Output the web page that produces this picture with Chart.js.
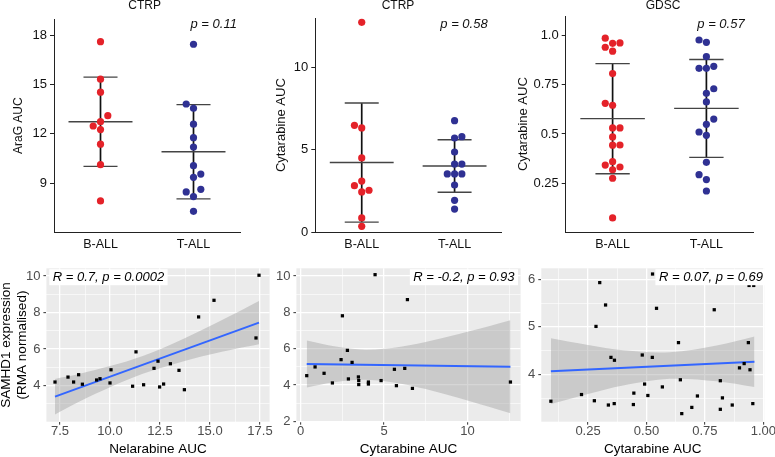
<!DOCTYPE html>
<html>
<head>
<meta charset="utf-8">
<title>SAMHD1 and drug AUC</title>
<script src="https://cdn.jsdelivr.net/npm/chart.js@4.4.1/dist/chart.umd.min.js"></script>
<style>
  html, body { margin: 0; padding: 0; background: #fff; overflow: hidden; }
  #fig { position: relative; width: 775px; height: 457px; }
  #fig canvas { position: absolute; left: 0; top: 0; }
</style>
</head>
<body>
<div id="fig">
  <canvas id="topArag" width="775" height="457"></canvas>
  <canvas id="topCtrp" width="775" height="457"></canvas>
  <canvas id="topGdsc" width="775" height="457"></canvas>
  <canvas id="botNel" width="775" height="457"></canvas>
  <canvas id="botCtrp" width="775" height="457"></canvas>
  <canvas id="botGdsc" width="775" height="457"></canvas>
</div>
<script>
// ---- values ----
const groupLabels = ['B-ALL', 'T-ALL'];

// top row: AUC per cell line (B-ALL / T-ALL), mean and SD bars
const aragB = [17.62, 15.33, 14.54, 12.74, 12.26, 11.37, 10.12, 7.91, 12.48, 13.11];
const aragT = [17.46, 13.56, 12.59, 11.77, 11.2, 10.06, 9.35, 8.18, 7.28, 13.82, 9.55, 8.46, 8.62];
const aragMean = [12.74, 10.91];
const aragSd = [2.72, 2.87];

const ctrpB = [12.74, 6.33, 4.51, 3.11, 2.45, 0.87, 0.36, 6.49, 2.55, 2.83];
const ctrpT = [6.77, 5.72, 4.87, 4.14, 3.54, 2.87, 1.94, 1.41, 3.54, 5.8, 3.54, 4.14];
const ctrpMean = [4.23, 4.02];
const ctrpSd = [3.61, 1.59];

const gdscB = [0.961, 0.921, 0.807, 0.646, 0.531, 0.485, 0.443, 0.359, 0.318, 0.275, 0.073,
               0.987, 0.963, 0.941, 0.531, 0.656, 0.444, 0.342, 0.332];
const gdscT = [0.966, 0.893, 0.834, 0.707, 0.663, 0.549, 0.493, 0.356, 0.268, 0.210,
               0.978, 0.844, 0.834, 0.730, 0.510, 0.576, 0.293];
const gdscMean = [0.578, 0.63];
const gdscSd = [0.28, 0.249];

// bottom row: AUC vs SAMHD1 expression, fitted line and its confidence band
const nelAuc = [7.25, 7.9, 8.18, 8.43, 8.62, 9.33, 9.5, 10.0, 10.05, 11.13, 11.3, 11.68,
                12.2, 12.4, 12.48, 12.68, 13.02, 13.45, 13.72, 14.43, 15.2, 17.3, 17.45];
const nelSamhd1 = [4.2, 4.47, 4.2, 4.6, 4.08, 4.31, 4.38, 4.15, 4.87, 3.97, 5.85, 4.05,
                   4.95, 5.34, 3.93, 4.09, 5.2, 4.84, 3.78, 7.76, 8.67, 6.61, 10.04];
const nelFitX = [7.25, 17.45];
const nelFitY = [3.40, 7.45];
const nelBandX = [7.25, 8.5, 10, 11.64, 13.3, 15, 16.3, 17.45];
const nelBandLo = [2.43, 3.15, 3.92, 4.65, 5.22, 5.70, 6.02, 6.27];
const nelBandHi = [4.37, 4.65, 5.07, 5.63, 6.38, 7.26, 7.97, 8.63];

const cytAuc = [0.36, 0.86, 1.4, 1.9, 2.42, 2.5, 2.8, 2.86, 3.08, 3.46, 3.48, 3.48,
                4.06, 4.06, 4.46, 4.82, 5.62, 5.74, 6.24, 6.4, 6.7, 12.58];
const cytSamhd1 = [4.52, 5.0, 4.65, 4.12, 5.4, 7.81, 5.91, 4.34, 5.25, 4.45, 4.25, 4.03,
                   4.17, 4.06, 10.07, 4.25, 4.87, 3.97, 4.92, 8.7, 3.82, 4.17];
const cytFitX = [0.36, 12.58];
const cytFitY = [5.16, 5.01];
const cytBandX = [0.36, 2, 3.9, 6, 8, 10, 12.58];
const cytBandLo = [3.87, 4.16, 4.29, 4.07, 3.66, 3.15, 2.45];
const cytBandHi = [6.45, 6.13, 5.95, 6.11, 6.48, 6.93, 7.57];

const gdscAuc = [0.091, 0.222, 0.277, 0.284, 0.300, 0.325, 0.337, 0.348, 0.362, 0.363, 0.444, 0.446,
                 0.482, 0.492, 0.506, 0.525, 0.543, 0.568, 0.637, 0.645, 0.651, 0.694, 0.718, 0.790,
                 0.816, 0.816, 0.825, 0.867, 0.898, 0.918, 0.939, 0.936, 0.943, 0.959, 0.955, 0.526];
const gdscSamhd1 = [3.44, 3.58, 3.45, 5.01, 5.93, 5.46, 3.36, 4.36, 3.39, 4.30, 3.37, 3.61,
                    4.41, 3.80, 3.56, 4.36, 5.39, 3.74, 4.67, 3.89, 3.18, 3.31, 3.55, 5.36,
                    3.87, 3.27, 3.51, 3.36, 4.14, 4.23, 5.87, 4.67, 4.10, 5.87, 3.39, 6.11];
const gdscFitX = [0.091, 0.962];
const gdscFitY = [4.07, 4.27];
const gdscBandX = [0.091, 0.25, 0.4, 0.6, 0.8, 0.962];
const gdscBandLo = [3.38, 3.59, 3.77, 3.91, 3.86, 3.74];
const gdscBandHi = [4.76, 4.62, 4.51, 4.47, 4.61, 4.80];

// ---- drawing ----
const FONT = "'Liberation Sans', Arial, Helvetica, sans-serif";
Chart.defaults.font.family = FONT;
Chart.defaults.animation = false;
Chart.defaults.events = [];
Chart.defaults.plugins.legend.display = false;
Chart.defaults.plugins.tooltip.enabled = false;

const PAGE_W = 775, PAGE_H = 457;
const dotColors = ['#E42229', '#2F3193'];
const LANE = 0.0785;      // swarm column width in category units
const GAP = 7.5;          // px, dots closer than this are pushed sideways
const MEAN_HALF = 0.344;
const CAP_HALF = 0.183;

// simple beeswarm: dots that collide go left/right alternately
function swarm(values, cx, pxPerUnit) {
  const placed = [];
  let pref = -1;
  return values.map(v => {
    const py = v * pxPerUnit;
    const busy = lane => placed.some(p => p.lane === lane && Math.abs(p.py - py) < GAP);
    let lane = 0;
    if (busy(0)) {
      for (let k = 1; k < 5; k++) {
        if (!busy(pref * k)) { lane = pref * k; break; }
        if (!busy(-pref * k)) { lane = -pref * k; break; }
      }
      pref = -pref;
    }
    placed.push({ lane, py });
    return { x: cx + lane * LANE, y: v };
  });
}

// grey panel background (ggplot style)
const panelBg = {
  id: 'panelBg',
  beforeDraw(chart, args, opts) {
    if (!opts.color) return;
    const { ctx, chartArea: a } = chart;
    ctx.save();
    ctx.fillStyle = opts.color;
    ctx.fillRect(a.left, a.top, a.width, a.height);
    ctx.restore();
  }
};

// free text: titles, p values, boxed R labels
const notes = {
  id: 'notes',
  afterDatasetsDraw(chart, args, opts) {
    const ctx = chart.ctx;
    (opts.items || []).forEach(n => {
      ctx.save();
      ctx.font = n.font;
      ctx.textBaseline = 'middle';
      if (n.box) {
        const w = ctx.measureText(n.text).width + 7;
        const left = n.anchor === 'right' ? n.x - w : n.x;
        ctx.fillStyle = '#fff';
        ctx.fillRect(left, n.y - 8, w, 16);
        ctx.textAlign = 'left';
        ctx.fillStyle = '#000';
        ctx.fillText(n.text, left + 3.5, n.y);
      } else {
        ctx.textAlign = n.align || 'center';
        ctx.fillStyle = n.color || '#111';
        ctx.fillText(n.text, n.x, n.y);
      }
      ctx.restore();
    });
  }
};

function dotPanel(id, p) {
  const pxPerUnit = (p.area.b - p.area.t) / (p.yMax - p.yMin);
  const datasets = [];
  p.groups.forEach((vals, i) => {
    const cx = i + 1, m = p.mean[i], s = p.sd[i];
    datasets.push({
      data: swarm(vals, cx, pxPerUnit), backgroundColor: dotColors[i],
      pointRadius: 3.6, borderWidth: 0, clip: false, order: 0
    });
    const seg = (pts, color, width) => datasets.push({
      data: pts, showLine: true, borderColor: color, borderWidth: width,
      pointRadius: 0, clip: false, order: 1
    });
    seg([{ x: cx - MEAN_HALF, y: m }, { x: cx + MEAN_HALF, y: m }], '#444', 1.4);
    seg([{ x: cx - CAP_HALF, y: m + s }, { x: cx + CAP_HALF, y: m + s }], '#444', 1.4);
    seg([{ x: cx - CAP_HALF, y: m - s }, { x: cx + CAP_HALF, y: m - s }], '#444', 1.4);
    seg([{ x: cx, y: m - s }, { x: cx, y: m + s }], '#111', 1.7);
  });

  const lh = p.yTitleSize * 1.2;
  const left = p.yTitleX - lh / 2;

  new Chart(document.getElementById(id), {
    type: 'scatter',
    data: { datasets },
    plugins: [notes],
    options: {
      responsive: false,
      layout: { padding: { left: left, right: PAGE_W - p.area.r, top: p.area.t, bottom: 0 } },
      scales: {
        x: {
          type: 'linear', min: 0.5, max: 2.5,
          afterBuildTicks: s => { s.ticks = [{ value: 1 }, { value: 2 }]; },
          afterFit: s => { s.height = PAGE_H - p.area.b; },
          ticks: {
            autoSkip: false, maxRotation: 0, padding: 5, color: '#111',
            font: { size: 12.5 }, callback: v => groupLabels[v - 1]
          },
          grid: { display: false, drawTicks: false },
          border: { display: true, color: '#222', width: 1 }
        },
        y: {
          min: p.yMin, max: p.yMax,
          afterBuildTicks: s => { s.ticks = p.yTicks.map(v => ({ value: v })); },
          afterFit: s => { s.width = p.area.l - left; },
          ticks: { padding: 3, color: '#111', font: { size: 13 }, callback: (v, i) => p.yTickLabels[i] },
          grid: { drawOnChartArea: false, tickLength: 4, tickColor: '#222' },
          border: { display: true, color: '#222', width: 1 },
          title: {
            display: true, text: p.yTitle, color: '#111',
            font: { size: p.yTitleSize }, padding: { top: 0, bottom: 0 }
          }
        }
      },
      plugins: { notes: { items: p.notes } }
    }
  });
}

const near = (a, b) => Math.abs(a - b) < 1e-9;

function gridTicks(major, minor, min, max) {
  return major.concat(minor)
    .filter(v => v >= min && v <= max)
    .sort((a, b) => a - b)
    .map(v => ({ value: v }));
}

function ggAxis(min, max, major, minor, labels) {
  const isMajor = v => major.some(m => near(m, v));
  return {
    type: 'linear', min, max,
    afterBuildTicks: s => { s.ticks = gridTicks(major, minor, min, max); },
    ticks: {
      autoSkip: false, maxRotation: 0, color: '#4D4D4D', font: { size: 13 },
      callback: v => {
        const i = major.findIndex(m => near(m, v));
        return i < 0 ? '' : labels[i];
      }
    },
    grid: {
      color: '#fff',
      lineWidth: c => (c.tick && isMajor(c.tick.value)) ? 1.3 : 0.6,
      tickColor: c => (c.tick && isMajor(c.tick.value)) ? '#333' : 'rgba(0,0,0,0)',
      tickWidth: 1, tickLength: 3
    },
    border: { display: false }
  };
}

function scatterPanel(id, p) {
  const pts = (xs, ys) => xs.map((v, i) => ({ x: v, y: ys[i] }));
  const x = ggAxis(p.xMin, p.xMax, p.xMajor, p.xMinor, p.xLabels);
  x.ticks.padding = -1;
  x.afterFit = s => { s.height = PAGE_H - p.area.b; };
  x.title = { display: true, text: p.xTitle, color: '#000', font: { size: 13.5 }, padding: { top: 0, bottom: 0 } };

  const y = ggAxis(p.yMin, p.yMax, p.yMajor, p.yMinor, p.yLabels);
  y.ticks.padding = 3;
  y.afterFit = s => { s.width = p.area.l - p.padLeft; };
  if (p.yTitle) {
    y.title = { display: true, text: p.yTitle, color: '#000', font: { size: 13.5 }, padding: { top: -2, bottom: 0 } };
  }

  new Chart(document.getElementById(id), {
    type: 'scatter',
    data: {
      datasets: [
        { data: pts(p.x, p.y), pointStyle: 'rect', pointRadius: 2.3, backgroundColor: '#000',
          borderWidth: 0, clip: false, order: 0 },
        { data: pts(p.fitX, p.fitY), showLine: true, borderColor: '#3366FF', borderWidth: 2,
          pointRadius: 0, order: 1 },
        { data: pts(p.bandX, p.bandLo), showLine: true, borderWidth: 0, borderColor: 'rgba(0,0,0,0)',
          pointRadius: 0, tension: 0.35, order: 2 },
        { data: pts(p.bandX, p.bandHi), showLine: true, borderWidth: 0, borderColor: 'rgba(0,0,0,0)',
          pointRadius: 0, tension: 0.35, order: 2, fill: '-1', backgroundColor: 'rgba(153,153,153,0.4)' }
      ]
    },
    plugins: [panelBg, notes],
    options: {
      responsive: false,
      layout: { padding: { left: p.padLeft, right: PAGE_W - p.area.r, top: p.area.t, bottom: 0 } },
      scales: { x, y },
      plugins: { panelBg: { color: '#EBEBEB' }, notes: { items: p.notes } }
    }
  });
}

const italic = "italic 13px " + FONT;
const plain = "12px " + FONT;

dotPanel('topArag', {
  area: { l: 54, r: 240, t: 19, b: 232.3 },
  yMin: 6, yMax: 19, yTicks: [9, 12, 15, 18], yTickLabels: ['9', '12', '15', '18'],
  yTitle: 'AraG AUC', yTitleSize: 12, yTitleX: 18.5,
  groups: [aragB, aragT], mean: aragMean, sd: aragSd,
  notes: [
    { text: 'CTRP', x: 144.7, y: 5.5, font: plain },
    { text: 'p = 0.11', x: 213.7, y: 24, font: italic }
  ]
});

dotPanel('topCtrp', {
  area: { l: 315.3, r: 501, t: 18, b: 232.3 },
  yMin: 0, yMax: 13, yTicks: [0, 5, 10], yTickLabels: ['0', '5', '10'],
  yTitle: 'Cytarabine AUC', yTitleSize: 13, yTitleX: 281.2,
  groups: [ctrpB, ctrpT], mean: ctrpMean, sd: ctrpSd,
  notes: [
    { text: 'CTRP', x: 398, y: 5.5, font: plain },
    { text: 'p = 0.58', x: 464, y: 24, font: italic }
  ]
});

dotPanel('topGdsc', {
  area: { l: 565.7, r: 753.3, t: 16, b: 232.3 },
  yMin: 0, yMax: 1.1, yTicks: [0.25, 0.5, 0.75, 1.0], yTickLabels: ['0.25', '0.5', '0.75', '1.0'],
  yTitle: 'Cytarabine AUC', yTitleSize: 13, yTitleX: 523.8,
  groups: [gdscB, gdscT], mean: gdscMean, sd: gdscSd,
  notes: [
    { text: 'GDSC', x: 663, y: 5.5, font: plain },
    { text: 'p = 0.57', x: 721, y: 24, font: italic }
  ]
});

scatterPanel('botNel', {
  area: { l: 46.4, r: 269.6, t: 268.3, b: 421.7 }, padLeft: 0,
  xMin: 6.82, xMax: 17.98, xMajor: [7.5, 10, 12.5, 15, 17.5], xMinor: [8.75, 11.25, 13.75, 16.25],
  xLabels: ['7.5', '10.0', '12.5', '15.0', '17.5'], xTitle: 'Nelarabine AUC',
  yMin: 2.03, yMax: 10.42, yMajor: [2, 4, 6, 8, 10], yMinor: [3, 5, 7, 9],
  yLabels: ['2', '4', '6', '8', '10'], yTitle: ['SAMHD1 expression', '(RMA normalised)'],
  x: nelAuc, y: nelSamhd1, fitX: nelFitX, fitY: nelFitY,
  bandX: nelBandX, bandLo: nelBandLo, bandHi: nelBandHi,
  notes: [{ text: 'R = 0.7, p = 0.0002', box: true, anchor: 'left', x: 49.3, y: 277.2, font: italic }]
});

scatterPanel('botCtrp', {
  area: { l: 296.4, r: 520.6, t: 268.3, b: 421.7 }, padLeft: 266.4,
  xMin: -0.26, xMax: 13.19, xMajor: [0, 5, 10], xMinor: [2.5, 7.5, 12.5],
  xLabels: ['0', '5', '10'], xTitle: 'Cytarabine AUC',
  yMin: 1.99, yMax: 10.42, yMajor: [2, 4, 6, 8, 10], yMinor: [3, 5, 7, 9],
  yLabels: ['2', '4', '6', '8', '10'],
  x: cytAuc, y: cytSamhd1, fitX: cytFitX, fitY: cytFitY,
  bandX: cytBandX, bandLo: cytBandLo, bandHi: cytBandHi,
  notes: [{ text: 'R = -0.2, p = 0.93', box: true, anchor: 'right', x: 518, y: 277.2, font: italic }]
});

scatterPanel('botGdsc', {
  area: { l: 541.3, r: 769, t: 268.3, b: 421.7 }, padLeft: 511.3,
  xMin: 0.05, xMax: 1.004, xMajor: [0.25, 0.5, 0.75, 1.0], xMinor: [0.125, 0.375, 0.625, 0.875],
  xLabels: ['0.25', '0.50', '0.75', '1.00'], xTitle: 'Cytarabine AUC',
  yMin: 3.01, yMax: 6.23, yMajor: [4, 5, 6], yMinor: [3.5, 4.5, 5.5],
  yLabels: ['4', '5', '6'],
  x: gdscAuc, y: gdscSamhd1, fitX: gdscFitX, fitY: gdscFitY,
  bandX: gdscBandX, bandLo: gdscBandLo, bandHi: gdscBandHi,
  notes: [{ text: 'R = 0.07, p = 0.69', box: true, anchor: 'right', x: 766.5, y: 277.2, font: italic }]
});
</script>
</body>
</html>
